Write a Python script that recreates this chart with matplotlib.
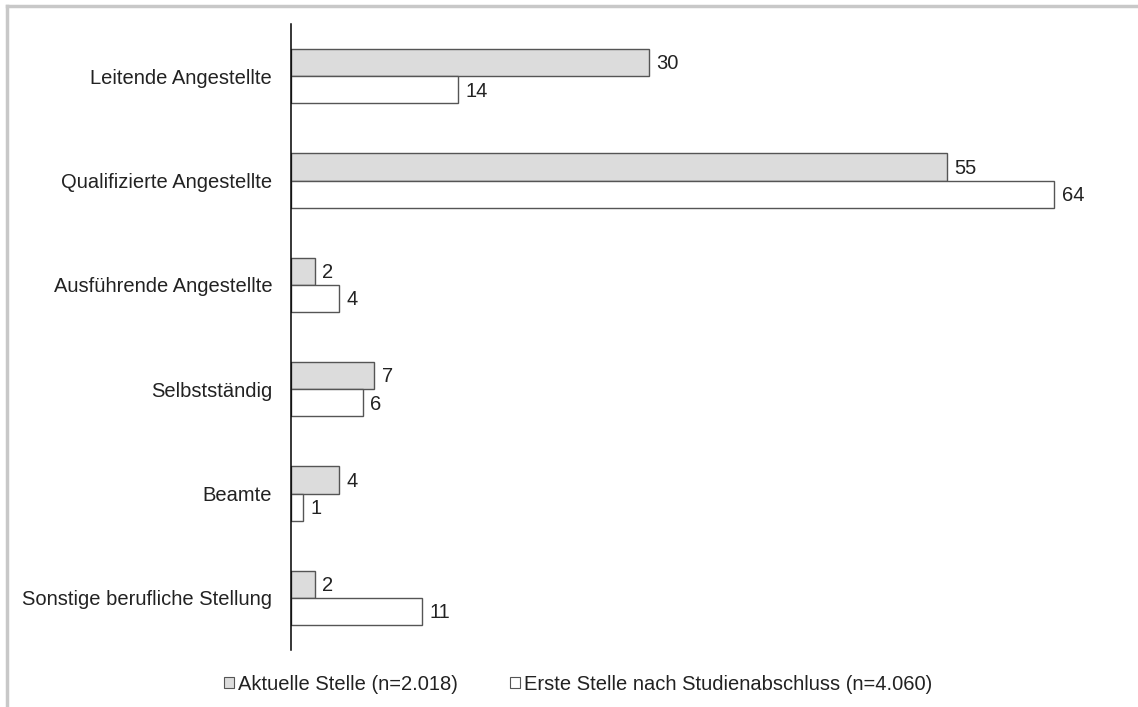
import numpy as np
import matplotlib.pyplot as plt
from matplotlib.patches import Rectangle
from matplotlib.lines import Line2D

plt.rcParams['font.family'] = ['Liberation Sans', 'DejaVu Sans']

categories = ['Leitende Angestellte', 'Qualifizierte Angestellte', 'Ausführende Angestellte',
              'Selbstständig', 'Beamte', 'Sonstige berufliche Stellung']
aktuell = [30, 55, 2, 7, 4, 2]
erste = [14, 64, 4, 6, 1, 11]
series_names = ['Aktuelle Stelle (n=2.018)', 'Erste Stelle nach Studienabschluss (n=4.060)']

GRAY = '#dcdcdc'
EDGE = '#555555'
FS = 14.5

fig = plt.figure(figsize=(11.38, 7.07), dpi=100)
ax = fig.add_axes([291 / 1138, (707 - 650) / 707, (1110 - 291) / 1138, (650 - 24) / 707])

y = np.arange(len(categories))
h = 0.26
ax.barh(y - h / 2, aktuell, height=h, color=GRAY, edgecolor=EDGE, linewidth=1)
ax.barh(y + h / 2, erste, height=h, color='white', edgecolor=EDGE, linewidth=1)

for i in range(len(categories)):
    ax.annotate(str(aktuell[i]), (aktuell[i], y[i] - h / 2), xytext=(5.5, -1), textcoords='offset points',
                ha='left', va='center', fontsize=FS, color='#222222')
    ax.annotate(str(erste[i]), (erste[i], y[i] + h / 2), xytext=(5.5, -1), textcoords='offset points',
                ha='left', va='center', fontsize=FS, color='#222222')

ax.set_xlim(0, 819 / 11.92)
ax.set_ylim(5.5, -0.5)
ax.set_yticks(y)
ax.set_yticklabels(categories, fontsize=FS, color='#222222')
ax.tick_params(axis='y', length=0, pad=13.5)
ax.set_xticks([])
for s in ['top', 'right', 'bottom']:
    ax.spines[s].set_visible(False)
ax.spines['left'].set_linewidth(1.1)
ax.spines['left'].set_color('black')

# outer frame
fig.add_artist(Line2D([7 / 1138, 7 / 1138], [0, 1 - 6 / 707], transform=fig.transFigure,
                      color='#c8c8c8', linewidth=2.5))
fig.add_artist(Line2D([7 / 1138, 1], [1 - 6 / 707, 1 - 6 / 707], transform=fig.transFigure,
                      color='#c8c8c8', linewidth=2.5))

handles = [Rectangle((0, 0), 1, 1, facecolor=GRAY, edgecolor=EDGE, linewidth=0.8),
           Rectangle((0, 0), 1, 1, facecolor='white', edgecolor=EDGE, linewidth=0.8)]
fig.legend(handles, series_names, loc='center', bbox_to_anchor=(578 / 1138, 1 - 684 / 707),
           ncol=2, frameon=False, fontsize=FS, handlelength=0.5, handleheight=0.5,
           handletextpad=0.2, columnspacing=2.6, labelcolor='#222222',
           borderpad=0, borderaxespad=0)

fig.savefig('out.png', dpi=100)
